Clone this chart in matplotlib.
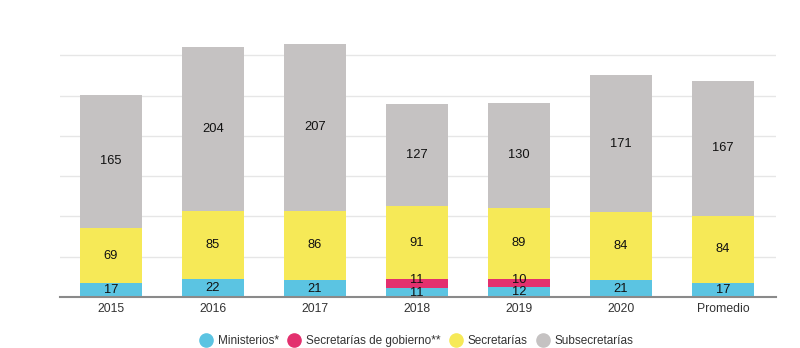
import numpy as np
import matplotlib
matplotlib.use("Agg")
import matplotlib.pyplot as plt
from matplotlib.lines import Line2D

plt.rcParams['font.family'] = ['Liberation Sans', 'DejaVu Sans']

# Datos
categorias = ["2015", "2016", "2017", "2018", "2019", "2020", "Promedio"]
ministerios = [17, 22, 21, 11, 12, 21, 17]
secretarias_gobierno = [0, 0, 0, 11, 10, 0, 0]
secretarias = [69, 85, 86, 91, 89, 84, 84]
subsecretarias = [165, 204, 207, 127, 130, 171, 167]

series = [
    ("Ministerios*", ministerios, "#5BC4E2", 0),
    ("Secretarías de gobierno**", secretarias_gobierno, "#E3306E", 2.5),
    ("Secretarías", secretarias, "#F6E957", 0),
    ("Subsecretarías", subsecretarias, "#C5C2C2", 0),
]

fig = plt.figure(figsize=(8, 3.48), dpi=100)
ax = fig.add_axes([0.075, 0.1466, 0.895, 0.81])

x = np.arange(len(categorias))
base = np.zeros(len(categorias))
for nombre, valores, color, desplaz in series:
    valores = np.array(valores, dtype=float)
    ax.bar(x, valores, bottom=base, width=0.61, color=color, zorder=2)
    for xi, b, v in zip(x, base, valores):
        if v > 0:
            ax.annotate(str(int(v)), (xi, b + v / 2), xytext=(0, desplaz),
                        textcoords='offset points', ha='center', va='center',
                        fontsize=9.3, color='#111111', zorder=3)
    base += valores

ax.set_xlim(-0.5, 6.52)
ax.set_ylim(0, 350)
ax.set_yticks([50, 100, 150, 200, 250, 300])
ax.yaxis.grid(True, color='#E6E6E6', linewidth=1, zorder=0)
ax.tick_params(axis='y', left=False, labelleft=False)
ax.tick_params(axis='x', length=0, labelsize=8.8, colors='#333333', pad=4)
ax.set_xticks(x)
ax.set_xticklabels(categorias)
for s in ['top', 'right', 'left']:
    ax.spines[s].set_visible(False)
ax.spines['bottom'].set_color('#8A8A8A')
ax.spines['bottom'].set_linewidth(1.5)
ax.spines['bottom'].set_zorder(4)

handles = [Line2D([0], [0], marker='o', linestyle='', markersize=9.5,
                  markerfacecolor=c, markeredgecolor=c) for _, _, c, _ in series]
fig.legend(handles, [n for n, _, _, _ in series], loc='center', ncol=4,
           bbox_to_anchor=(0.52, 0.02), frameon=False, fontsize=8.5,
           handletextpad=0.4, columnspacing=0.7, handlelength=1.2,
           labelcolor='#333333')

fig.savefig("out.png", dpi=100)
